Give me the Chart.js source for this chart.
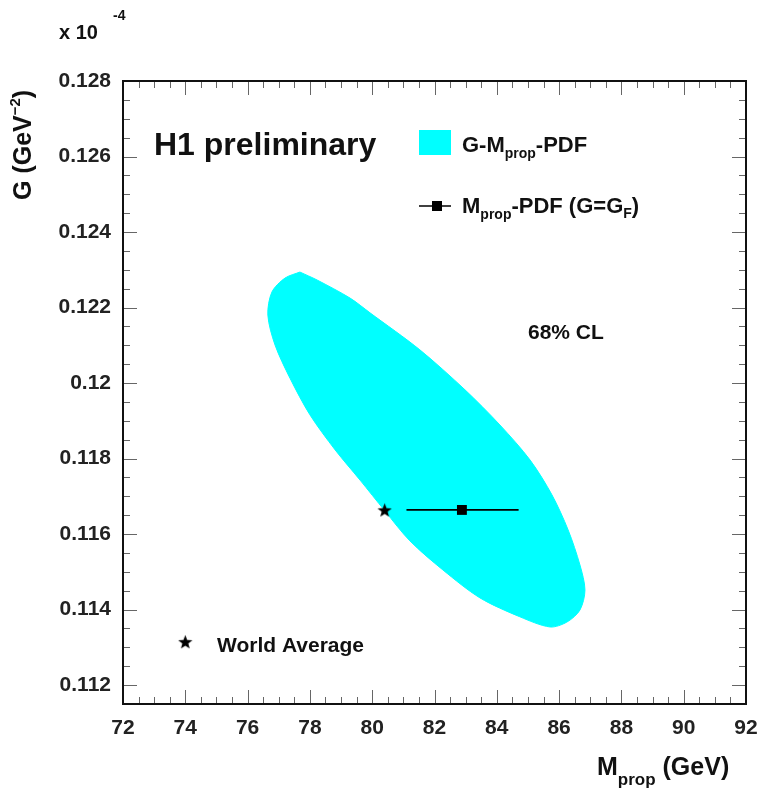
<!DOCTYPE html>
<html>
<head>
<meta charset="utf-8">
<script src="https://cdn.jsdelivr.net/npm/chart.js@4.4.1/dist/chart.umd.min.js"></script>
<style>
  html, body { margin: 0; padding: 0; background: #ffffff; }
  #wrap { width: 762px; height: 792px; position: relative; }
</style>
</head>
<body>
<div id="wrap"><canvas id="c" width="762" height="792"></canvas></div>
<script>
// ---------- data ----------
const xTickValues = [72, 74, 76, 78, 80, 82, 84, 86, 88, 90, 92];
const xTickLabels = ['72', '74', '76', '78', '80', '82', '84', '86', '88', '90', '92'];
const yTickValues = [0.112, 0.114, 0.116, 0.118, 0.120, 0.122, 0.124, 0.126, 0.128];
const yTickLabels = ['0.112', '0.114', '0.116', '0.118', '0.12', '0.122', '0.124', '0.126', '0.128'];

// 68% CL contour of the G-Mprop-PDF fit (closed outline)
const contourM = [77.68, 78.23, 79.29, 79.93, 81.53, 82.98, 84.10, 85.07, 85.77, 86.29, 86.67, 86.83,
                  86.67, 86.25, 85.71, 84.74, 83.46, 82.27, 81.21, 80.41, 79.61, 78.81, 78.00, 77.36,
                  76.88, 76.65, 76.78, 77.20, 77.68];
const contourG = [0.12294, 0.12273, 0.12225, 0.12186, 0.12088, 0.11982, 0.11889, 0.11796, 0.11704, 0.11611, 0.11518, 0.11452,
                  0.11399, 0.11367, 0.11354, 0.11381, 0.11431, 0.11505, 0.11582, 0.11661, 0.11743, 0.11823, 0.11916, 0.12013,
                  0.12101, 0.12180, 0.12241, 0.12278, 0.12294];

// Mprop-PDF fit with G = G_F
const fitM = [82.88];
const fitG = [0.11664];
const fitErrM = [81.1, 84.7];
const fitErrG = [0.11664, 0.11664];

// World average
const worldM = [80.4];
const worldG = [0.11664];
// legend star
const legendStarM = [74.0];
const legendStarG = [0.11315];

// ---------- helpers ----------
const FONT = '"Liberation Sans", Arial, Helvetica, sans-serif';
function pts(xs, ys) { return xs.map((x, i) => ({ x: x, y: ys[i] })); }

function makeStar(size) {
  const c = document.createElement('canvas');
  c.width = size; c.height = size;
  const g = c.getContext('2d');
  const cx = size / 2, cy = size / 2 + size * 0.05, R = size / 2, r = R * 0.42;
  g.beginPath();
  for (let i = 0; i < 10; i++) {
    const ang = -Math.PI / 2 + i * Math.PI / 5;
    const rad = (i % 2 === 0) ? R : r;
    const px = cx + rad * Math.cos(ang), py = cy + rad * Math.sin(ang);
    if (i === 0) g.moveTo(px, py); else g.lineTo(px, py);
  }
  g.closePath();
  g.fillStyle = '#000';
  g.fill();
  return c;
}
const starImg = makeStar(15);

// ---------- plugins ----------
const framePlugin = {
  id: 'frame',
  afterDatasetsDraw(chart) {
    const { ctx, chartArea: a, scales } = chart;
    const xs = scales.x, ys = scales.y;
    ctx.save();
    ctx.strokeStyle = '#666';
    ctx.lineWidth = 1;
    const xMin = xTickValues[0], xMax = xTickValues[xTickValues.length - 1];
    for (let v = xMin; v <= xMax + 1e-9; v += 0.5) {
      const major = Math.abs(v / 2 - Math.round(v / 2)) < 1e-6;
      const len = major ? 14 : 7;
      const px = Math.round(xs.getPixelForValue(v)) + 0.5;
      ctx.beginPath();
      ctx.moveTo(px, a.bottom); ctx.lineTo(px, a.bottom - len);
      ctx.moveTo(px, a.top); ctx.lineTo(px, a.top + len);
      ctx.stroke();
    }
    for (let k = -1; k <= 32; k++) {
      const v = 0.112 + k * 0.0005;
      if (v > ys.max + 1e-9 || v < ys.min + 1e-7) continue;
      const major = (k % 4 === 0);
      const len = major ? 14 : 7;
      const py = Math.round(ys.getPixelForValue(v)) + 0.5;
      ctx.beginPath();
      ctx.moveTo(a.left, py); ctx.lineTo(a.left + len, py);
      ctx.moveTo(a.right, py); ctx.lineTo(a.right - len, py);
      ctx.stroke();
    }
    ctx.strokeStyle = '#111';
    ctx.lineWidth = 2;
    ctx.strokeRect(a.left, a.top, a.right - a.left, a.bottom - a.top);
    ctx.restore();
  }
};

function drawRuns(ctx, x, baseline, runs) {
  let cx = x;
  runs.forEach(r => {
    ctx.font = 'bold ' + r[1] + 'px ' + FONT;
    ctx.fillText(r[0], cx, baseline + (r[2] || 0));
    cx += ctx.measureText(r[0]).width;
  });
  return cx;
}

const textPlugin = {
  id: 'texts',
  afterDraw(chart) {
    const ctx = chart.ctx;
    ctx.save();
    ctx.fillStyle = '#111';
    ctx.textBaseline = 'alphabetic';
    ctx.textAlign = 'left';

    drawRuns(ctx, 154, 155, [['H1 preliminary', 32, 0]]);

    ctx.fillStyle = '#00FFFF';
    ctx.fillRect(419, 130, 32, 25);
    ctx.fillStyle = '#111';
    drawRuns(ctx, 462, 152, [['G-M', 22, 0], ['prop', 14, 6], ['-PDF', 22, 0]]);

    ctx.strokeStyle = '#000';
    ctx.lineWidth = 1.5;
    ctx.beginPath(); ctx.moveTo(419, 206); ctx.lineTo(451, 206); ctx.stroke();
    ctx.fillStyle = '#000';
    ctx.fillRect(432, 201, 10, 10);
    ctx.fillStyle = '#111';
    drawRuns(ctx, 462, 213, [['M', 22, 0], ['prop', 14, 6], ['-PDF (G=G', 22, 0], ['F', 14, 5], [')', 22, 0]]);

    drawRuns(ctx, 528, 339, [['68% CL', 21, 0]]);

    drawRuns(ctx, 217, 652, [['World Average', 21, 0]]);

    drawRuns(ctx, 59, 39, [['x 10', 20, 0]]);
    drawRuns(ctx, 113, 20, [['-4', 14, 0]]);

    drawRuns(ctx, 597, 775, [['M', 25, 0], ['prop', 17, 10], [' (GeV)', 25, 0]]);

    ctx.save();
    ctx.translate(31, 200);
    ctx.rotate(-Math.PI / 2);
    drawRuns(ctx, 0, 0, [['G (GeV', 25, 0], ['\u22122', 15, -11], [')', 25, 0]]);
    ctx.restore();

    ctx.restore();
  }
};

// ---------- chart ----------
const ctx = document.getElementById('c').getContext('2d');
new Chart(ctx, {
  type: 'scatter',
  data: {
    datasets: [
      { label: 'World Average', data: pts(worldM, worldG), pointStyle: starImg, pointRadius: 7, order: 0 },
      { label: 'World Average legend', data: pts(legendStarM, legendStarG), pointStyle: starImg, pointRadius: 7, order: 0 },
      {
        label: 'Mprop-PDF (G=GF)', data: pts(fitM, fitG), pointStyle: 'rect', pointRadius: 7,
        backgroundColor: '#000', borderColor: '#000', borderWidth: 0, order: 1
      },
      {
        label: 'error', data: pts(fitErrM, fitErrG), showLine: true, borderColor: '#000',
        borderWidth: 1.8, pointRadius: 0, fill: false, order: 2
      },
      {
        label: 'G-Mprop-PDF', data: pts(contourM, contourG), showLine: true,
        borderColor: '#00FFFF', backgroundColor: '#00FFFF', borderWidth: 1, pointRadius: 0,
        tension: 0.3, fill: 'shape', order: 10
      }
    ]
  },
  options: {
    responsive: false,
    animation: false,
    events: [],
    layout: { padding: { top: 81, right: 16, bottom: 0, left: 0 } },
    plugins: { legend: { display: false }, tooltip: { enabled: false }, title: { display: false } },
    scales: {
      x: {
        type: 'linear', min: 72, max: 92,
        border: { display: false },
        grid: { display: false, drawTicks: false },
        afterBuildTicks: s => { s.ticks = xTickValues.map(v => ({ value: v })); },
        afterFit: s => { s.height = 88; s.paddingLeft = 0; s.paddingRight = 0; },
        ticks: {
          padding: 12, color: '#222',
          font: { family: FONT, size: 21, weight: 'bold' },
          callback: (v) => { const i = xTickValues.indexOf(v); return i >= 0 ? xTickLabels[i] : ''; }
        }
      },
      y: {
        type: 'linear', min: 0.1115, max: 0.128,
        border: { display: false },
        grid: { display: false, drawTicks: false },
        afterBuildTicks: s => { s.ticks = yTickValues.map(v => ({ value: v })); },
        afterFit: s => { s.width = 123; s.paddingTop = 0; s.paddingBottom = 0; },
        ticks: {
          padding: 12, color: '#222',
          font: { family: FONT, size: 21, weight: 'bold' },
          callback: (v) => {
            let i = -1;
            yTickValues.forEach((t, k) => { if (Math.abs(t - v) < 1e-9) i = k; });
            return i >= 0 ? yTickLabels[i] : '';
          }
        }
      }
    }
  },
  plugins: [framePlugin, textPlugin]
});
</script>
</body>
</html>
